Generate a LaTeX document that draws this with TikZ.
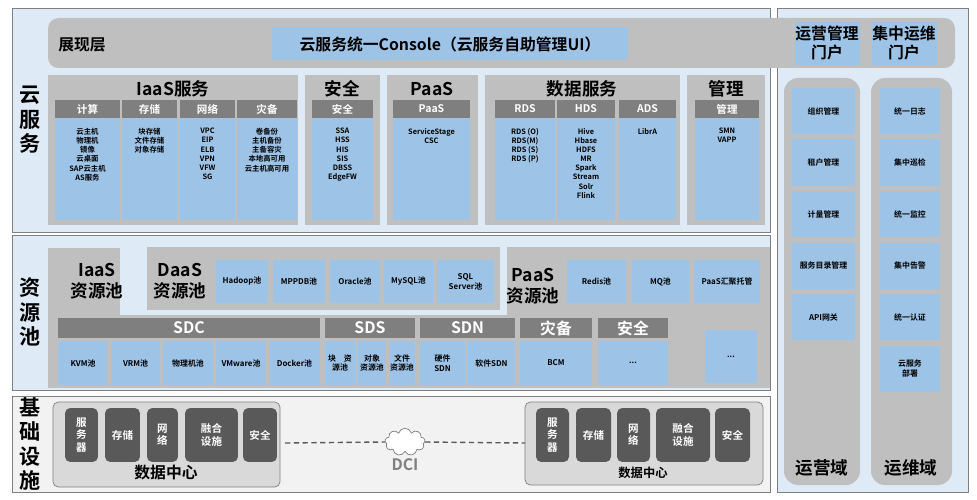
\documentclass[tikz,border=0pt]{standalone}
\usepackage{fontspec}
\setmainfont{Noto Sans CJK SC}[BoldFont={Noto Sans CJK SC Bold}]
\usepackage{tikz}
\usetikzlibrary{shapes.symbols}
\definecolor{panel}{HTML}{DEEBF7}
\definecolor{grayb}{HTML}{BFBFBF}
\definecolor{hdr}{HTML}{7F7F7F}
\definecolor{blu}{HTML}{9DC3E6}
\definecolor{dark}{HTML}{595959}
\tikzset{
	hdtext/.style={white,font=\bfseries\fontsize{6}{7}\selectfont},
	coltext/.style={anchor=north,font=\bfseries\fontsize{4.2}{5.2}\selectfont,align=center},
	boxtext/.style={font=\bfseries\fontsize{4.5}{5.5}\selectfont,align=center},
	title/.style={font=\bfseries\normalsize,align=center},
	dcbox/.style={fill=dark,rounded corners=3,text=white,font=\bfseries\fontsize{6}{7}\selectfont,align=center}
}
\begin{document}
\begin{tikzpicture}[x=0.02cm,y=-0.02cm]
	\useasboundingbox (0,0) rectangle (977,500);
	\fill[white] (0,0) rectangle (977,500);
	% panels
	\draw[gray,fill=panel] (12,8) rectangle (770,232);
	\draw[gray,fill=panel] (12,235) rectangle (770,390);
	\draw[gray,fill=white!95!black] (12,396) rectangle (770,492);
	\draw[gray,fill=panel] (777,8) rectangle (968,492);
	\node[font=\bfseries\large,align=center] (lblcloud) at (30,120) {云\\服\\务};
	\node[font=\bfseries\large,align=center] (lblpool) at (30,312) {资\\源\\池};
	\node[font=\bfseries\large,align=center] (lblinfra) at (30,444) {基\\础\\设\\施};
	% presentation layer
	\fill[grayb,rounded corners=6] (48,18) rectangle (955,68);
	\node[font=\bfseries\small] (show) at (82,45) {展现层};
	\fill[blu] (272,27) rectangle (628,60);
	\node[font=\bfseries\small] (console) at (450,44) {云服务统一Console（云服务自助管理UI）};
	\fill[blu] (795,22) rectangle (860,65);
	\node[font=\bfseries\small,align=center] (opsportal) at (827,43) {运营管理\\门户};
	\fill[blu] (872,22) rectangle (937,65);
	\node[font=\bfseries\small,align=center] (omportal) at (904,43) {集中运维\\门户};
	% cloud services
	\fill[grayb] (48,75) rectangle (298,225);
	\fill[grayb] (305,75) rectangle (380,225);
	\fill[grayb] (387,75) rectangle (478,225);
	\fill[grayb] (485,75) rectangle (680,225);
	\fill[grayb] (687,75) rectangle (765,225);
	\node[title] (iaas) at (173,89) {IaaS服务};
	\node[title] (sec) at (342,89) {安全};
	\node[title] (paas) at (432,89) {PaaS};
	\node[title] (data) at (582,89) {数据服务};
	\node[title] (mgmt) at (726,89) {管理};
	\foreach \a/\b in {55/120,122/177,180/235,237/297,312/373,393/470,495/555,557/615,619/676,695/759}{
		\fill[hdr] (\a,100) rectangle (\b,118);
		\fill[blu] (\a,118) rectangle (\b,220);
	}
	\node[hdtext] at (87.5,109) {计算};
	\node[hdtext] at (149.5,109) {存储};
	\node[hdtext] at (207.5,109) {网络};
	\node[hdtext] at (267,109) {灾备};
	\node[hdtext] at (342.5,109) {安全};
	\node[hdtext] at (431.5,109) {PaaS};
	\node[hdtext] at (525,109) {RDS};
	\node[hdtext] at (586,109) {HDS};
	\node[hdtext] at (647.5,109) {ADS};
	\node[hdtext] at (727,109) {管理};
	\node[coltext] at (87.5,122) {云主机\\物理机\\镜像\\云桌面\\SAP云主机\\AS服务};
	\node[coltext] at (149.5,122) {块存储\\文件存储\\对象存储};
	\node[coltext] at (207.5,122) {VPC\\EIP\\ELB\\VPN\\VFW\\SG};
	\node[coltext] at (267,122) {卷备份\\主机备份\\主备容灾\\本地高可用\\云主机高可用};
	\node[coltext] at (342.5,122) {SSA\\HSS\\HIS\\SIS\\DBSS\\EdgeFW};
	\node[coltext] at (431.5,122) {ServiceStage\\CSC};
	\node[coltext] at (525,122) {RDS (O)\\RDS(M)\\RDS (S)\\RDS (P)};
	\node[coltext] at (586,122) {Hive\\Hbase\\HDFS\\MR\\Spark\\Stream\\Solr\\Flink};
	\node[coltext] at (647.5,122) {LibrA};
	\node[coltext] at (727,122) {SMN\\VAPP};
	% resource pools
	\fill[grayb] (48,248) rectangle (120,320);
	\fill[grayb] (48,315) rectangle (700,388);
	\fill[grayb] (507,247) rectangle (770,315);
	\fill[grayb] (700,315) rectangle (770,388);
	\fill[grayb] (147,247) rectangle (500,310);
	\node[title] (iaaspool) at (97,281) {IaaS\\资源池};
	\node[title] (daaspool) at (180,281) {DaaS\\资源池};
	\node[title] (paaspool) at (533,286) {PaaS\\资源池};
	\foreach \a/\b in {216/268,273/325,330/380,384/433,437/494,567/626,632/689,694/760}
		\fill[blu] (\a,260) rectangle (\b,303);
	\fill[blu] (705,330) rectangle (757,383);
	\node[boxtext] at (242,281.5) {Hadoop池};
	\node[boxtext] at (299,281.5) {MPPDB池};
	\node[boxtext] at (355,281.5) {Oracle池};
	\node[boxtext] at (408.5,281.5) {MySQL池};
	\node[boxtext] at (465.5,281.5) {SQL\\Server池};
	\node[boxtext] at (596.5,281.5) {Redis池};
	\node[boxtext] at (660.5,281.5) {MQ池};
	\node[boxtext] at (727,281.5) {PaaS汇聚托管};
	\node[boxtext] at (731,356.5) {...};
	\foreach \a/\b in {58/320,325/415,420/515,520/592,598/668}
		\fill[hdr] (\a,318) rectangle (\b,338);
	\node[hdtext,font=\bfseries\small] at (189,328) {SDC};
	\node[hdtext,font=\bfseries\small] at (370,328) {SDS};
	\node[hdtext,font=\bfseries\small] at (467.5,328) {SDN};
	\node[hdtext,font=\bfseries\small] at (556,328) {灾备};
	\node[hdtext,font=\bfseries\small] at (633,328) {安全};
	\foreach \a/\b in {58/108,111/160,163/213,216/266,269/320,325/355,358/386,389/415,420/465,468/515,520/592,598/668}
		\fill[blu] (\a,341) rectangle (\b,385);
	\node[boxtext] at (83,363) {KVM池};
	\node[boxtext] at (135.5,363) {VRM池};
	\node[boxtext] at (188,363) {物理机池};
	\node[boxtext] at (241,363) {VMware池};
	\node[boxtext] at (294.5,363) {Docker池};
	\node[boxtext] at (340,363) {块\quad 资\\源池};
	\node[boxtext] at (372,363) {对象\\资源池};
	\node[boxtext] at (402,363) {文件\\资源池};
	\node[boxtext] at (442.5,363) {硬件\\SDN};
	\node[boxtext] at (491.5,363) {软件SDN};
	\node[boxtext] at (556,363) {BCM};
	\node[boxtext] at (633,363) {...};
	% infrastructure
	\draw[gray,fill=grayb!60,rounded corners=3] (53,402) rectangle (280,487);
	\draw[gray,fill=grayb!60,rounded corners=3] (525,402) rectangle (763,485);
	\node[dcbox,minimum width=0.66cm,minimum height=1.08cm] (srvA) at (81.5,435) {服\\务\\器};
	\node[dcbox,minimum width=0.7cm,minimum height=1.08cm] (stoA) at (122.5,435) {存储};
	\node[dcbox,minimum width=0.62cm,minimum height=1.08cm] (netA) at (162.5,435) {网\\络};
	\node[dcbox,minimum width=1.06cm,minimum height=1.08cm] (conA) at (211.5,435) {融合\\设施};
	\node[dcbox,minimum width=0.68cm,minimum height=1.08cm] (secA) at (260,435) {安全};
	\node[dcbox,minimum width=0.66cm,minimum height=1.08cm] (srvB) at (552.5,435) {服\\务\\器};
	\node[dcbox,minimum width=0.7cm,minimum height=1.08cm] (stoB) at (593.5,435) {存储};
	\node[dcbox,minimum width=0.66cm,minimum height=1.08cm] (netB) at (633.5,435) {网\\络};
	\node[dcbox,minimum width=1.08cm,minimum height=1.08cm] (conB) at (683,435) {融合\\设施};
	\node[dcbox,minimum width=0.7cm,minimum height=1.08cm] (secB) at (732.5,435) {安全};
	\node[font=\bfseries\small] (dcA) at (166,473) {数据中心};
	\node[font=\bfseries\scriptsize] (dcB) at (643,473) {数据中心};
	\node[cloud,draw=gray,fill=white,cloud puffs=9,minimum width=0.8cm,minimum height=0.55cm] (dci) at (405,442) {};
	\node[gray,font=\bfseries\small] (dcilbl) at (405,465) {DCI};
	\coordinate (leftend) at (285,443);
	\coordinate (rightend) at (525,443);
	\draw[dark,densely dashed,thick] (leftend) -- (dci.west);
	\draw[dark,densely dashed,thick] (dci.east) -- (rightend);
	% right domains
	\fill[grayb,rounded corners=8] (784,78) rectangle (860,485);
	\fill[grayb,rounded corners=8] (871,78) rectangle (952,485);
	\foreach \i in {0,...,4}
		\fill[blu] (792,{88+\i*51.5}) rectangle (855,{134+\i*51.5});
	\foreach \i in {0,...,5}
		\fill[blu] (880,{88+\i*51.5}) rectangle (940,{134+\i*51.5});
	\node[boxtext] at (823.5,111) {组织管理};
	\node[boxtext] at (823.5,162.5) {租户管理};
	\node[boxtext] at (823.5,214) {计量管理};
	\node[boxtext] at (823.5,265.5) {服务目录管理};
	\node[boxtext] at (823.5,317) {API网关};
	\node[boxtext] at (910,111) {统一日志};
	\node[boxtext] at (910,162.5) {集中巡检};
	\node[boxtext] at (910,214) {统一监控};
	\node[boxtext] at (910,265.5) {集中告警};
	\node[boxtext] at (910,317) {统一认证};
	\node[boxtext] at (910,368.5) {云服务\\部署};
	\node[title] (opsdom) at (822,468) {运营域};
	\node[title] (omdom) at (911,468) {运维域};
\end{tikzpicture}
\end{document}
